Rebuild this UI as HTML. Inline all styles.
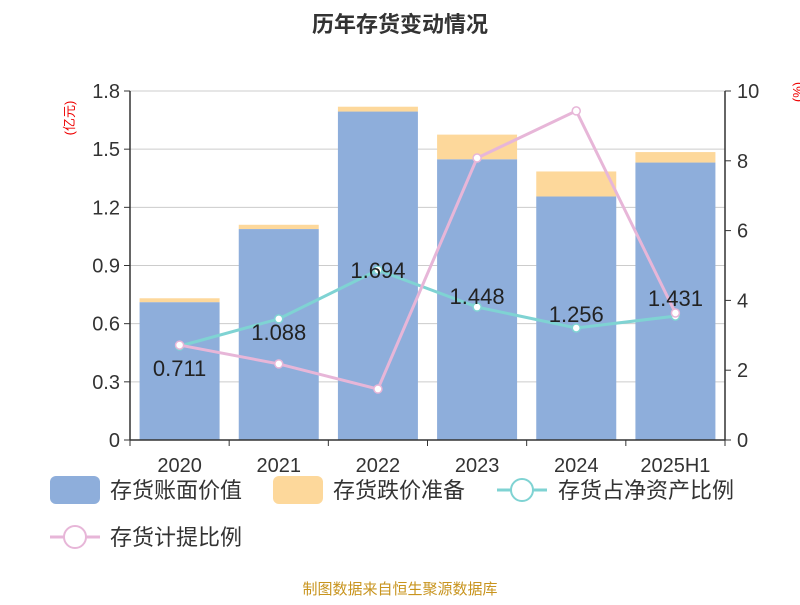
<!DOCTYPE html>
<html><head><meta charset="utf-8"><style>
body{margin:0;background:#fff;font-family:"Liberation Sans","Noto Sans CJK SC",sans-serif}
svg text{font-family:"Liberation Sans","Noto Sans CJK SC",sans-serif}
</style></head><body>
<svg id="c" width="800" height="600">
<text x="400" y="32" text-anchor="middle" font-size="22" font-weight="bold" fill="#333">历年存货变动情况</text>
<text transform="translate(74,118) rotate(-90)" text-anchor="middle" font-size="13" fill="#e00">(亿元)</text>
<text transform="translate(802,92) rotate(-90)" text-anchor="middle" font-size="13" fill="#e00">(%)</text>
<g id="grid"></g><g id="bars"></g><g id="lines"></g><g id="axes"></g>
<g>
<rect x="50" y="476" width="50" height="28" rx="6" fill="#8eaedb"/>
<text x="110" y="498" font-size="22" fill="#333">存货账面价值</text>
<rect x="273" y="476" width="50" height="28" rx="6" fill="#fdd89b"/>
<text x="333" y="498" font-size="22" fill="#333">存货跌价准备</text>
<line x1="497" y1="490" x2="547" y2="490" stroke="#7fd3d3" stroke-width="3"/>
<circle cx="522" cy="490" r="11" fill="#fff" stroke="#7fd3d3" stroke-width="2"/>
<text x="558" y="498" font-size="22" fill="#333">存货占净资产比例</text>
<line x1="50" y1="537" x2="100" y2="537" stroke="#e7b6d8" stroke-width="3"/>
<circle cx="75" cy="537" r="11" fill="#fff" stroke="#e7b6d8" stroke-width="2"/>
<text x="110" y="545" font-size="22" fill="#333">存货计提比例</text>
</g>
<text x="400" y="594" text-anchor="middle" font-size="15" fill="#c8941e">制图数据来自恒生聚源数据库</text>
</svg>
<script>
const categories=["2020","2021","2022","2023","2024","2025H1"];
const bookValues=[0.711,1.088,1.694,1.448,1.256,1.431];
const reserveValues=[0.02,0.022,0.025,0.127,0.129,0.054];
const ratioValues=[2.69,3.47,4.87,3.81,3.21,3.55];
const provisionValues=[2.72,2.18,1.46,8.08,9.43,3.64];
const leftTicks=["0","0.3","0.6","0.9","1.2","1.5","1.8"];
const rightTicks=["0","2","4","6","8","10"];
const NS="http://www.w3.org/2000/svg";
const X0=130,X1=725,Y0=440,Y1=91;
const bw=(X1-X0)/categories.length;
const xc=i=>X0+bw*(i+0.5);
const yl=v=>Y0-(v/1.8)*(Y0-Y1);
const yr=v=>Y0-(v/10)*(Y0-Y1);
function mk(p,t,a){const e=document.createElementNS(NS,t);for(const k in a)e.setAttribute(k,a[k]);document.getElementById(p).appendChild(e);return e;}
leftTicks.forEach((t,i)=>{const v=parseFloat(t),y=yl(v);
 const g=mk("grid","line",{x1:X0,x2:X1,y1:y,y2:y,stroke:"#ccc"});
 
 
 const tl=mk("axes","line",{x1:X0-6,x2:X0,y1:y,y2:y,stroke:"#333"});
 
 
 const tx=mk("axes","text",{x:X0-10,y:y+7,"text-anchor":"end","font-size":20,fill:"#333"});tx.textContent=t;
 
 
});
rightTicks.forEach(t=>{const y=yr(parseFloat(t));
 const tl=mk("axes","line",{x1:X1,x2:X1+6,y1:y,y2:y,stroke:"#333"});
 
 
 const tx=mk("axes","text",{x:X1+12,y:y+7,"font-size":20,fill:"#333"});tx.textContent=t;
 
 
});
categories.forEach((c,i)=>{
 const b=mk("bars","rect",{x:xc(i)-40,width:80,y:yl(bookValues[i]),height:Y0-yl(bookValues[i]),fill:"#8eaedb"});
 
 
 const top=bookValues[i]+reserveValues[i];
 const r=mk("bars","rect",{x:xc(i)-40,width:80,y:yl(top),height:yl(bookValues[i])-yl(top),fill:"#fdd89b"});
 
 
 const tk=mk("axes","line",{x1:X0+bw*i,x2:X0+bw*i,y1:Y0,y2:Y0+6,stroke:"#333"});
 
 
 const tx=mk("axes","text",{x:xc(i),y:Y0+32,"text-anchor":"middle","font-size":20,fill:"#333"});tx.textContent=c;
 
 
});
const last=mk("axes","line",{x1:X1,x2:X1,y1:Y0,y2:Y0+6,stroke:"#333"});


[["line",{x1:X0,x2:X0,y1:Y1,y2:Y0}],["line",{x1:X1,x2:X1,y1:Y1,y2:Y0}],["line",{x1:X0,x2:X1,y1:Y0,y2:Y0}]].forEach((d,k)=>{
 const e=mk("axes",d[0],Object.assign({stroke:"#333","stroke-width":1.5},d[1]));
 
 
});
function series(vals,color,name){
 const pl=mk("lines","polyline",{points:vals.map((v,i)=>xc(i)+","+yr(v)).join(" "),fill:"none",stroke:color,"stroke-width":3});
 
 
 vals.forEach((v,i)=>{const c=mk("lines","circle",{cx:xc(i),cy:yr(v),r:4,fill:"#fff",stroke:color,"stroke-width":1.5});
  
  });
}
series(ratioValues,"#7fd3d3","ratio");
series(provisionValues,"#e7b6d8","provision");
const lblOff=[0,0,0,0,0,0];
bookValues.forEach((v,i)=>{const y=(i<2)?yl(v)+75:yl(v)-165+ (i==2?0:0);
 const ty=[376,340,278,304,322,306][i];
 const t=mk("lines","text",{x:xc(i),y:ty,"text-anchor":"middle","font-size":22,fill:"#222"});t.textContent=v.toFixed(3);
 
 });
</script>
</body></html>
